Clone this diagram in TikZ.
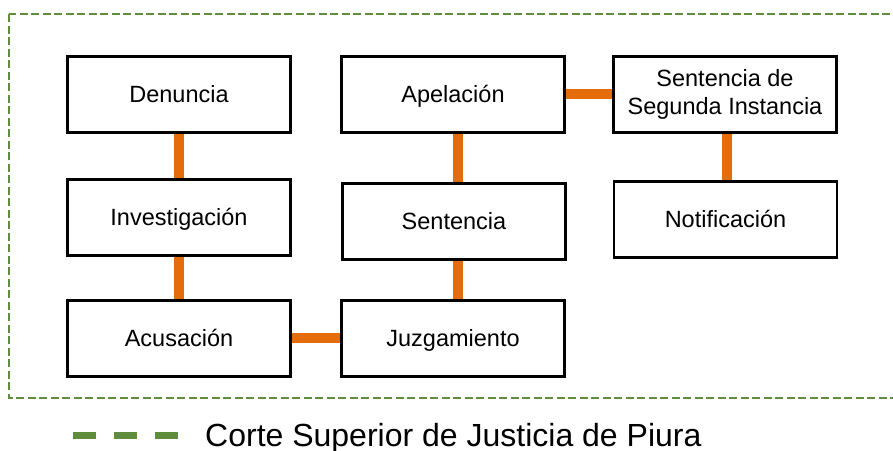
\documentclass[tikz,border=0pt]{standalone}
\usepackage{fontspec}
\setmainfont{Liberation Sans}
\pgfdeclarelayer{background}
\pgfsetlayers{background,main}
\definecolor{frameGreen}{HTML}{5F8D3C}
\definecolor{linkOrange}{HTML}{E46C0A}
\newcommand{\boxstrut}{\rule[-6pt]{0pt}{28pt}}
\begin{document}
\begin{tikzpicture}[x=1pt,y=-1pt,
  box/.style={draw=black, line width=2.8pt, fill=white, minimum width=223pt, minimum height=76pt,
    font=\fontsize{23.5}{28}\selectfont, align=center, inner sep=0pt,
    execute at begin node={\boxstrut}, execute at end node={\boxstrut}},
  link/.style={draw=linkOrange, line width=10pt},
  frame/.style={draw=frameGreen, line width=2.2pt, dash pattern=on 8pt off 3.5pt},
  legendline/.style={draw=frameGreen, line width=7pt, dash pattern=on 23pt off 18pt},
  legendtext/.style={font=\fontsize{32}{36}\selectfont, inner sep=0pt, anchor=base west}]
\useasboundingbox (0,0) rectangle (893,450);
\draw[frame] (9,14) rectangle (905,398);

\node[box] (den) at (179,94.5) {Denuncia};
\node[box] (inv) at (179,217.5) {Investigación};
\node[box] (acu) at (179,338.5) {Acusación};
\node[box] (ape) at (453,94.5) {Apelación};
\node[box] (sen) at (454,221.5) {Sentencia};
\node[box] (juz) at (453,338.5) {Juzgamiento};
\node[box] (ssi) at (725,94.5) {Sentencia de\\Segunda Instancia};
\node[box] (not) at (725.5,219.5) {Notificación};

\begin{pgfonlayer}{background}
\draw[link] (den.south) -- (inv.north);
\draw[link] (inv.south) -- (acu.north);
\draw[link] (acu.east |- 0,338) -- (juz.west |- 0,338);
\draw[link] (juz.north -| 458,0) -- (sen.south -| 458,0);
\draw[link] (sen.north -| 458,0) -- (ape.south -| 458,0);
\draw[link] (ape.east |- 0,94) -- (ssi.west |- 0,94);
\draw[link] (ssi.south -| 727,0) -- (not.north -| 727,0);
\end{pgfonlayer}

\coordinate (l1) at (73,435);
\coordinate (l2) at (178,435);
\draw[legendline] (l1) -- (l2);
\node[legendtext] (leg) at (205,446) {Corte Superior de Justicia de Piura};
\end{tikzpicture}
\end{document}
